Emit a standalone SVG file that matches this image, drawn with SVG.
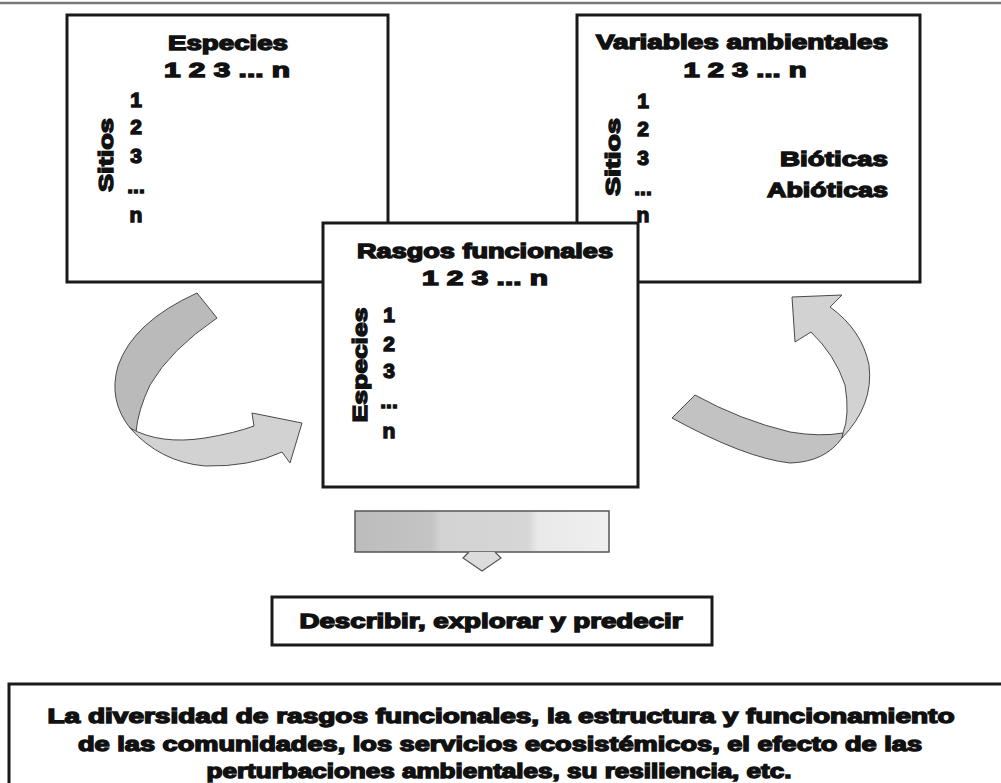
<svg xmlns="http://www.w3.org/2000/svg" width="1001" height="783" viewBox="0 0 1001 783">
<style>
.box{fill:#fff;stroke:#1a1a1a;stroke-width:3}
.t{font-family:"Liberation Sans",Arial,sans-serif;font-weight:bold;fill:#111;stroke:#111;stroke-width:1.4;paint-order:stroke;font-size:20px}
.n{font-size:21px}
.m{text-anchor:middle}
.e{text-anchor:end}
.arr{stroke:#4a4a4a;stroke-width:1}
</style>
<defs>
<linearGradient id="bar" x1="0" y1="0" x2="1" y2="0">
<stop offset="0" stop-color="#bcbcbc"/>
<stop offset="0.3" stop-color="#c4c4c4"/>
<stop offset="0.34" stop-color="#d3d3d3"/>
<stop offset="0.68" stop-color="#d6d6d6"/>
<stop offset="0.72" stop-color="#e9e9e9"/>
<stop offset="1" stop-color="#efefef"/>
</linearGradient>
</defs>
<line x1="0" y1="3" x2="1001" y2="3" stroke="#777" stroke-width="2.5"/>

<g id="especies">
<rect class="box" x="67" y="15" width="321" height="267"/>
<text class="t m" x="228" y="50" textLength="120" lengthAdjust="spacingAndGlyphs">Especies</text>
<text class="t n m" x="227" y="77" textLength="126" lengthAdjust="spacingAndGlyphs">1 2 3 ... n</text>
<text class="t n m" x="136" y="107">1</text>
<text class="t n m" x="136" y="134">2</text>
<text class="t n m" x="136" y="163">3</text>
<text class="t n m" x="136" y="193">...</text>
<text class="t n m" x="136" y="222">n</text>
<text class="t n m" transform="translate(113,155) rotate(-90)" textLength="74" lengthAdjust="spacingAndGlyphs">Sitios</text>
</g>

<g id="variables">
<rect class="box" x="577" y="15" width="343" height="267"/>
<text class="t m" x="742" y="49" textLength="292" lengthAdjust="spacingAndGlyphs">Variables ambientales</text>
<text class="t n m" x="745" y="77" textLength="123" lengthAdjust="spacingAndGlyphs">1 2 3 ... n</text>
<text class="t n m" x="643" y="108">1</text>
<text class="t n m" x="643" y="136">2</text>
<text class="t n m" x="643" y="165">3</text>
<text class="t n m" x="643" y="195">...</text>
<text class="t n m" x="643" y="222">n</text>
<text class="t n m" transform="translate(620,157) rotate(-90)" textLength="78" lengthAdjust="spacingAndGlyphs">Sitios</text>
<text class="t n e" x="888" y="166" textLength="108" lengthAdjust="spacingAndGlyphs">Bióticas</text>
<text class="t n e" x="888" y="197" textLength="121" lengthAdjust="spacingAndGlyphs">Abióticas</text>
</g>

<g id="rasgos">
<rect class="box" x="323" y="223" width="315" height="264"/>
<text class="t m" x="485" y="258" textLength="256" lengthAdjust="spacingAndGlyphs">Rasgos funcionales</text>
<text class="t n m" x="485" y="285" textLength="126" lengthAdjust="spacingAndGlyphs">1 2 3 ... n</text>
<text class="t n m" x="389" y="322">1</text>
<text class="t n m" x="389" y="351">2</text>
<text class="t n m" x="389" y="378">3</text>
<text class="t n m" x="389" y="408">...</text>
<text class="t n m" x="389" y="438">n</text>
<text class="t n m" transform="translate(367,365) rotate(-90)" textLength="115" lengthAdjust="spacingAndGlyphs">Especies</text>
</g>

<g id="connectors">
<g id="arrow-left">
<path class="arr" fill="#bababa" d="M197,293 L217,318 Q170,350 150,385 Q138,410 136,432 L130,428 Q108,400 118,366 Q133,322 197,293 Z"/>
<path class="arr" fill="#d2d2d2" d="M130,428 Q160,445 205,438 Q235,433 254,426 L252,413 L302,423 L290,463 L282,452 Q250,467 205,466 Q160,462 130,428 Z"/>
</g>
<g id="arrow-right">
<path class="arr" fill="#c2c2c2" d="M672,418 L695,395 Q740,420 790,432 Q820,437 843,433 L842,438 Q825,462 790,463 Q745,458 672,418 Z"/>
<path class="arr" fill="#d2d2d2" d="M842,438 Q874,405 869,365 Q862,330 830,307 L842,295 L792,297 L795,342 L811,332 Q835,355 845,385 Q850,415 843,433 Z"/>
</g>
<g id="arrow-down">
<rect x="355" y="511" width="254" height="41" fill="url(#bar)" stroke="#555" stroke-width="1.5"/>
<path d="M469,552 L463,558 L482,571 L501,558 L495,552" fill="#dcdcdc" stroke="#555" stroke-width="1.2"/>
</g>
</g>

<g id="describir">
<rect class="box" x="272" y="597" width="440" height="48"/>
<text class="t m" x="491" y="628" font-size="21" textLength="383" lengthAdjust="spacingAndGlyphs">Describir, explorar y predecir</text>
</g>

<g id="resultado">
<rect class="box" x="9" y="684" width="1010" height="120"/>
<text class="t m" x="501" y="723" font-size="21" textLength="907" lengthAdjust="spacingAndGlyphs">La diversidad de rasgos funcionales, la estructura y funcionamiento</text>
<text class="t m" x="500" y="751" font-size="21" textLength="844" lengthAdjust="spacingAndGlyphs">de las comunidades, los servicios ecosistémicos, el efecto de las</text>
<text class="t m" x="499" y="778" font-size="21" textLength="585" lengthAdjust="spacingAndGlyphs">perturbaciones ambientales, su resiliencia, etc.</text>
</g>
</svg>
